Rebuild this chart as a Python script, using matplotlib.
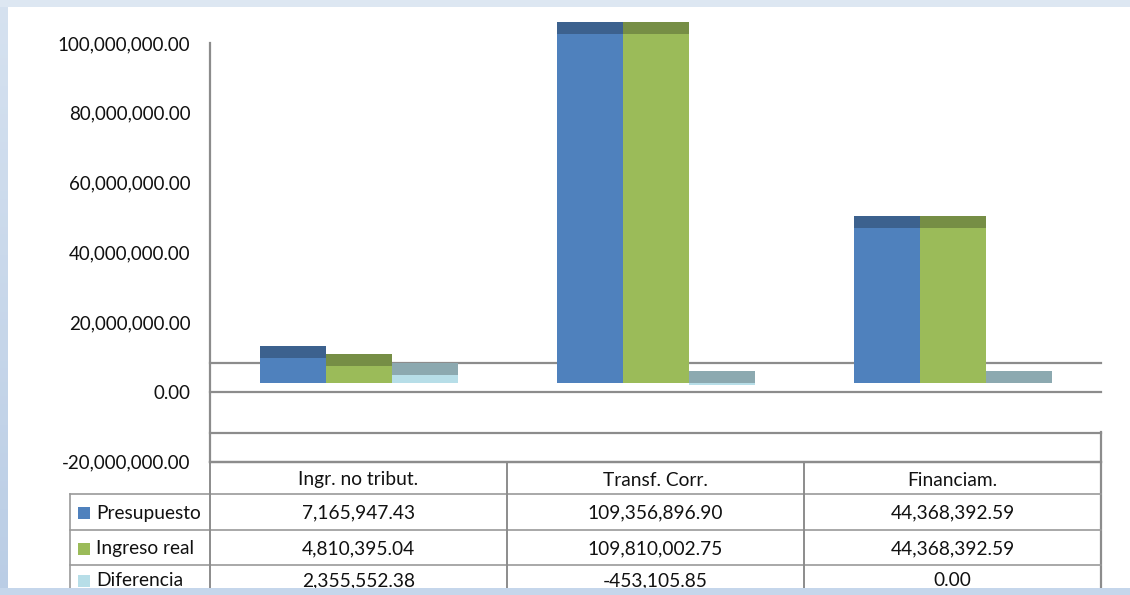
import numpy as np
import matplotlib
matplotlib.use("Agg")
import matplotlib.pyplot as plt
import matplotlib.transforms as mtransforms
from matplotlib.patches import Rectangle

# ---------------- data ----------------
categories = ["Ingr. no tribut.", "Transf. Corr.", "Financiam."]
series_names = ["Presupuesto", "Ingreso real", "Diferencia"]
presupuesto = [7165947.43, 109356896.90, 44368392.59]
ingreso_real = [4810395.04, 109810002.75, 44368392.59]
diferencia = [2355552.38, -453105.85, 0.00]
y_ticks = [-20e6, 0, 20e6, 40e6, 60e6, 80e6, 100e6]

# ---------------- style ----------------
front_colors = ["#4f81bd", "#9bbb59", "#b7dee8"]
top_colors = ["#3c618e", "#768e45", "#8ca9b0"]
line_col = "#8c8c8c"
FONT = ["Lato", "DejaVu Sans"]
plt.rcParams["font.family"] = FONT

W, H, DPI = 1130, 595, 100
fig = plt.figure(figsize=(W / DPI, H / DPI), dpi=DPI)
fig.patch.set_facecolor("white")

# overlay axes in pixel coordinates (background frame + table)
ov = fig.add_axes([0, 0, 1, 1])
ov.set_xlim(0, W)
ov.set_ylim(H, 0)
ov.axis("off")

# ---------------- chart axes ----------------
px_per_unit = 3.49e-6
ax_left, ax_right = 210, 1101
ax_bottom_px, ax_top_px = 461.8, 16
ymin = -20e6
ymax = ymin + (ax_bottom_px - ax_top_px) / px_per_unit
ax = fig.add_axes([ax_left / W, (H - ax_bottom_px) / H,
                   (ax_right - ax_left) / W, (ax_bottom_px - ax_top_px) / H])
ax.set_facecolor("none")
ax.set_xlim(-0.5, len(categories) - 0.5)
ax.set_ylim(ymin, ymax)
for s in ["top", "right", "bottom"]:
    ax.spines[s].set_visible(False)
ax.spines["left"].set_bounds(y_ticks[0], y_ticks[-1])
ax.spines["left"].set_color(line_col)
ax.spines["left"].set_linewidth(1.6)
ax.set_xticks([])
ax.set_yticks(y_ticks)
ax.set_yticklabels([f"{v:,.2f}" for v in y_ticks], fontsize=13.5, color="#111111")
ax.tick_params(axis="y", length=0, pad=14)

# 3D-like floor offsets (pixels)
floor_depth = 29
bar_shift = 9
top_depth_px = 12
top_depth = top_depth_px / px_per_unit
axis_cap = y_ticks[-1]

shift_bar = ax.transData + mtransforms.Affine2D().translate(0, bar_shift)
shift_floor = ax.transData + mtransforms.Affine2D().translate(0, floor_depth)

xs = np.arange(len(categories))
# floor lines at 0 and at -20M
for yv in [0, ymin]:
    ax.plot([-0.5, 2.5], [yv, yv], color=line_col, lw=1.6, zorder=1, clip_on=False)
    ax.plot([-0.5, 2.5], [yv, yv], color=line_col, lw=1.6, zorder=1,
            transform=shift_floor, clip_on=False)
# right edge of the -20M floor / table
ov.plot([ax_right, ax_right], [ax_bottom_px - floor_depth - 1, H], color=line_col, lw=1.6)

bw = 2 / 9
for i, vals in enumerate([presupuesto, ingreso_real, diferencia]):
    vals = np.array(vals)
    h = np.minimum(vals, axis_cap)
    xpos = xs + (i - 1) * bw
    ax.bar(xpos, h, width=bw, bottom=0, color=front_colors[i],
           edgecolor="none", transform=shift_bar, zorder=3)
    ax.bar(xpos, np.full_like(h, top_depth), width=bw, bottom=np.maximum(h, 0),
           color=top_colors[i], edgecolor="none", transform=shift_bar, zorder=3)

# ---------------- data table ----------------
col_edges = [ax_left + k * (ax_right - ax_left) / 3 for k in range(4)]
legend_left = 70
row_tops = [462, 494, 530, 565]
tcol = "#9a9a9a"
ov.plot([ax_left, ax_right], [row_tops[0], row_tops[0]], color=line_col, lw=1.6)
for y in row_tops[1:]:
    ov.plot([legend_left, ax_right], [y, y], color=tcol, lw=1.2)
ov.plot([legend_left, legend_left], [row_tops[1], H], color=tcol, lw=1.2)
for x in col_edges[:-1]:
    ov.plot([x, x], [row_tops[0], H], color=line_col, lw=1.4)

tfs = 13.8
for j, cat in enumerate(categories):
    cx = (col_edges[j] + col_edges[j + 1]) / 2
    ov.text(cx, (row_tops[0] + row_tops[1]) / 2 + 2, cat, ha="center", va="center",
            fontsize=tfs, color="#111111")
rows = [presupuesto, ingreso_real, diferencia]
row_mids = [(row_tops[1] + row_tops[2]) / 2, (row_tops[2] + row_tops[3]) / 2,
            row_tops[3] + 15]
for r, (name, vals) in enumerate(zip(series_names, rows)):
    ym = row_mids[r]
    ov.add_patch(Rectangle((78, ym - 5), 12, 12, facecolor=front_colors[r], edgecolor="none"))
    ov.text(96, ym + 1, name, ha="left", va="center", fontsize=tfs, color="#111111")
    for j, v in enumerate(vals):
        cx = (col_edges[j] + col_edges[j + 1]) / 2
        ov.text(cx, ym + 1, f"{v:,.2f}", ha="center", va="center",
                fontsize=tfs, color="#111111")

# ---------------- background frame ----------------
grad = np.linspace(0, 1, 256)[:, None]
c_top = np.array(matplotlib.colors.to_rgb("#d6e2f0"))
c_bot = np.array(matplotlib.colors.to_rgb("#bacde5"))
img = c_top[None, None, :] * (1 - grad[..., None]) + c_bot[None, None, :] * grad[..., None]
ov.imshow(img, extent=(0, 8, H, 0), aspect="auto", zorder=10)
ov.add_patch(Rectangle((0, 0), W, 7, facecolor="#dde7f2", edgecolor="none", zorder=10))
ov.add_patch(Rectangle((0, 588), W, 7, facecolor="#c5d6eb", edgecolor="none", zorder=10))
ov.set_xlim(0, W)
ov.set_ylim(H, 0)

fig.savefig("out.png", dpi=DPI)
